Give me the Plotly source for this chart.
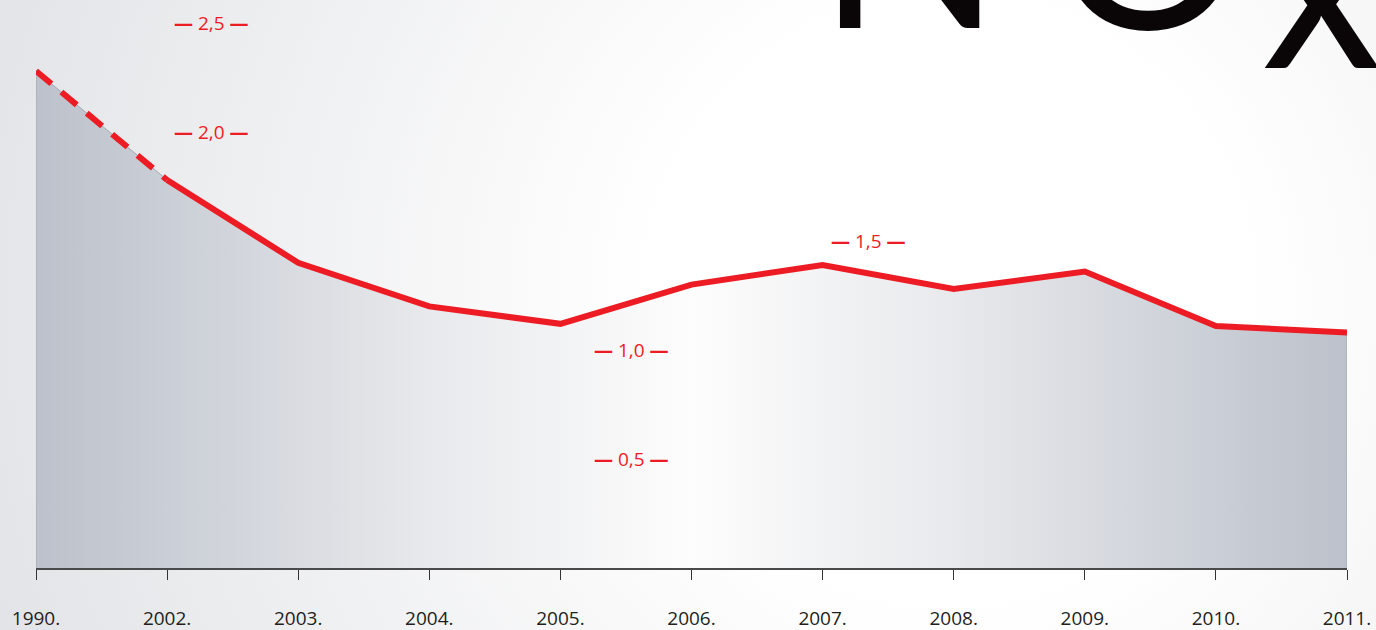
import base64
import plotly.graph_objects as go

# ---- data ----
years = ["1990.", "2002.", "2003.", "2004.", "2005.", "2006.", "2007.", "2008.", "2009.", "2010.", "2011."]
nox_values = [2.28, 1.78, 1.40, 1.20, 1.12, 1.30, 1.39, 1.28, 1.36, 1.11, 1.08]
tick_values = [0.5, 1.0, 1.5, 2.0, 2.5]
tick_texts = ["0,5", "1,0", "1,5", "2,0", "2,5"]
tick_label_x = [4.54, 4.54, 6.35, 1.335, 1.335]   # where each in-plot value label sits (category units)

RED = "#ed1c24"
W, H = 1376, 630
ML, MR, MT, MB = 36, 29, 0, 62
PW, PH = W - ML - MR, H - MT - MB
Y_MAX = 568 / 218.0

xs = list(range(len(years)))

fig = go.Figure()

# area polygon built from the data (baseline -> values -> baseline)
area_x = [xs[0]] + xs + [xs[-1]]
area_y = [0] + nox_values + [0]
fig.add_trace(go.Scatter(
    x=area_x, y=area_y, mode="lines", fill="toself",
    line=dict(color="#a3a7ae", width=1),
    fillgradient=dict(
        type="horizontal",
        colorscale=[[0, "#bcc1cb"], [0.12, "#cdd1d8"], [0.3, "#e8e9ec"],
                    [0.5, "#fdfdfd"], [0.7, "#e8e9ec"], [0.88, "#cdd1d8"], [1, "#bcc1cb"]],
    ),
    hoverinfo="skip", showlegend=False, cliponaxis=False,
))

# dashed part (1990 -> 2002)
fig.add_trace(go.Scatter(
    x=xs[:2], y=nox_values[:2], mode="lines",
    line=dict(color=RED, width=6, dash="20px,13px"),
    showlegend=False, cliponaxis=False,
))
# solid part (2002 -> 2011)
fig.add_trace(go.Scatter(
    x=xs[1:], y=nox_values[1:], mode="lines",
    line=dict(color=RED, width=6),
    showlegend=False, cliponaxis=False,
))

# in-plot value labels
for v, t, lx in zip(tick_values, tick_texts, tick_label_x):
    fig.add_annotation(
        x=lx, y=v, xref="x", yref="y", text="<b>\u2014</b> " + t + " <b>\u2014</b>",
        showarrow=False, xanchor="center", yanchor="middle",
        font=dict(family="Open Sans", size=19, color=RED),
    )

# big title NOx (cropped at top)
TITLE_FONT = dict(family="Lato", size=240, color="#0a0507")
fig.add_annotation(
    x=(816 - ML) / PW, y=(568 - 81) / PH, xref="paper", yref="paper",
    text="N", showarrow=False, xanchor="left", yanchor="bottom", font=TITLE_FONT,
)
fig.add_annotation(
    x=(1148 - ML) / PW, y=(568 - 82) / PH, xref="paper", yref="paper",
    text="O", showarrow=False, xanchor="center", yanchor="bottom", font=TITLE_FONT,
)
fig.add_annotation(
    x=(1322 - ML) / PW, y=(568 - 121) / PH, xref="paper", yref="paper",
    text="x", showarrow=False, xanchor="center", yanchor="bottom",
    font=dict(family="Liberation Sans Narrow, Lato", size=240, color="#0a0507"),
)

# background radial gradient
svg = (
    "<svg xmlns='http://www.w3.org/2000/svg' width='1376' height='630' viewBox='0 0 1376 630' "
    "preserveAspectRatio='none'><defs><radialGradient id='g' cx='950' cy='300' r='1000' "
    "gradientUnits='userSpaceOnUse'><stop offset='0' stop-color='#ffffff'/>"
    "<stop offset='0.3' stop-color='#ffffff'/><stop offset='1' stop-color='#e3e4e7'/>"
    "</radialGradient></defs><rect width='1376' height='630' fill='url(#g)'/></svg>"
)
src = "data:image/svg+xml;base64," + base64.b64encode(svg.encode()).decode()
fig.add_layout_image(
    source=src, xref="paper", yref="paper",
    x=-ML / PW, y=1 + MT / PH, sizex=W / PW, sizey=H / PH,
    sizing="stretch", xanchor="left", yanchor="top", layer="below",
)

fig.update_layout(
    width=W, height=H,
    margin=dict(l=ML, r=MR, t=MT, b=MB, pad=0, autoexpand=False),
    paper_bgcolor="#f2f2f4", plot_bgcolor="rgba(0,0,0,0)",
    showlegend=False,
    xaxis=dict(
        range=[0, len(years) - 1], tickmode="array", tickvals=xs, ticktext=years,
        showgrid=False, zeroline=False, showline=True, linecolor="#4a4a4a", linewidth=2,
        ticks="outside", ticklen=10, tickwidth=1, tickcolor="#333333",
        ticklabelstandoff=22, automargin=False,
        tickfont=dict(family="Open Sans", size=19, color="#231f20"),
        fixedrange=True,
    ),
    yaxis=dict(
        range=[0, Y_MAX], showgrid=False, zeroline=False, showline=False,
        showticklabels=False, ticks="", fixedrange=True, automargin=False,
    ),
)

fig.write_html(
    "out.html",
    config={"displayModeBar": False},
    post_script="document.body.style.margin='0px';document.body.style.overflow='hidden';",
)
